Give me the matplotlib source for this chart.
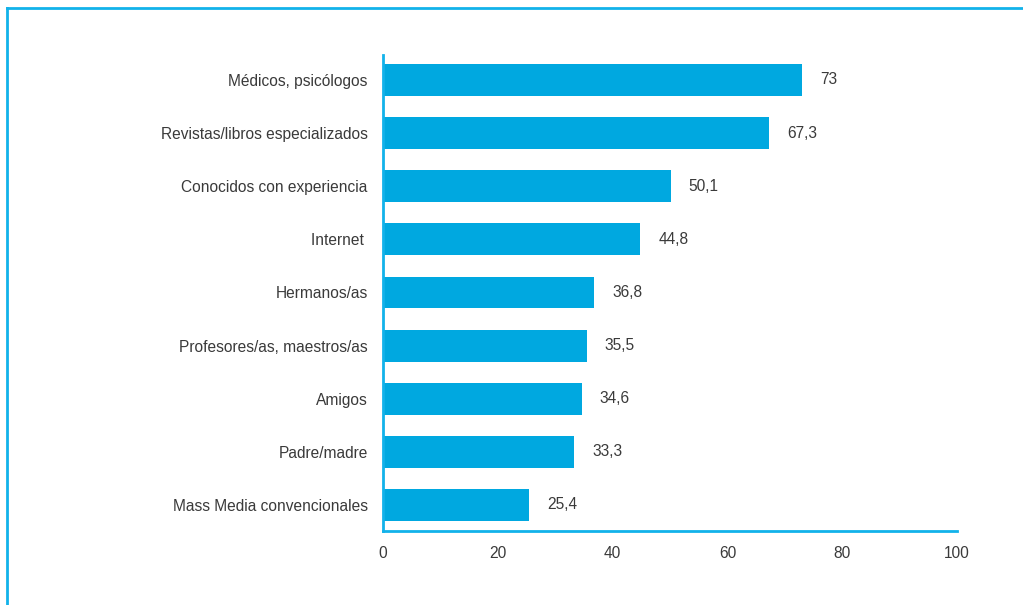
import matplotlib
matplotlib.use("Agg")
import matplotlib.pyplot as plt
from matplotlib.lines import Line2D

categories = ["Médicos, psicólogos", "Revistas/libros especializados", "Conocidos con experiencia",
              "Internet ", "Hermanos/as", "Profesores/as, maestros/as", "Amigos",
              "Padre/madre", "Mass Media convencionales"]
values = [73, 67.3, 50.1, 44.8, 36.8, 35.5, 34.6, 33.3, 25.4]
xticks = [0, 20, 40, 60, 80, 100]

BAR = "#00a8e0"
LINE = "#12b2ea"
TXT = "#3a3a3a"
plt.rcParams['font.family'] = ['Liberation Sans', 'DejaVu Sans']

fig = plt.figure(figsize=(10.23, 6.05), dpi=100)
ax = fig.add_axes([383/1023, 1 - 531/605, (957-383)/1023, (531-55)/605])

ypos = list(range(len(categories)))
ax.barh(ypos, values, height=0.6, color=BAR, zorder=2)
for y, v in zip(ypos, values):
    lab = f"{v:g}".replace(".", ",")
    ax.annotate(lab, (v, y), xytext=(13, 0), textcoords="offset points",
                ha="left", va="center", fontsize=11.2, color=TXT)

ax.set_xlim(0, 100)
ax.set_ylim(8.49, -0.47)
ax.set_yticks(ypos)
ax.set_yticklabels(categories)
ax.set_xticks(xticks)
ax.set_xticklabels([str(t) for t in xticks])
ax.tick_params(axis="both", length=0, labelsize=11.2, colors=TXT)
ax.tick_params(axis="y", pad=11)
ax.tick_params(axis="x", pad=11)
for s in ["top", "right"]:
    ax.spines[s].set_visible(False)
for s in ["left", "bottom"]:
    ax.spines[s].set_color(LINE)
    ax.spines[s].set_linewidth(2)

# outer frame (left and top edges visible)
fig.add_artist(Line2D([6.5/1023, 6.5/1023], [0, 1 - 7.5/605], transform=fig.transFigure,
                      color=LINE, lw=2))
fig.add_artist(Line2D([6.5/1023, 1], [1 - 7.5/605, 1 - 7.5/605], transform=fig.transFigure,
                      color=LINE, lw=2))

fig.savefig("out.png", dpi=100)
